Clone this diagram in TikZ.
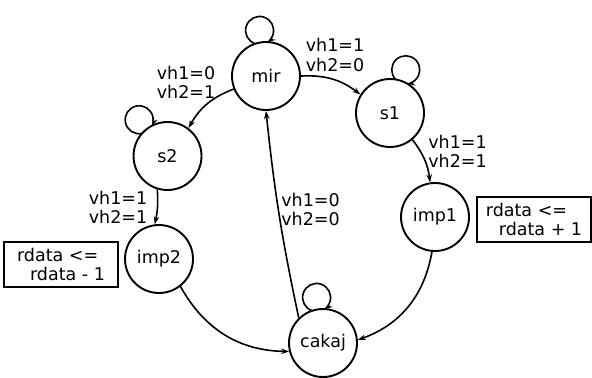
\documentclass[tikz,border=0pt]{standalone}
\usepackage{fontspec}
\setmainfont{DejaVu Sans}
\usetikzlibrary{arrows.meta,calc}
\newcommand{\fsz}{\fontsize{17.5bp}{19.5bp}\selectfont}
\newcommand{\selfloop}[2]{\draw[arr] ($(#1)+(#2:46)+(#2+154:14)$) arc[start angle=#2+154, end angle=#2-154, radius=14];}
\begin{document}
\begin{tikzpicture}[x=1bp,y=1bp,
  state/.style={circle,draw,line width=1.9bp,minimum size=68bp,inner sep=0pt,font=\fsz},
  lbl/.style={align=left,inner sep=0pt,font=\fsz},
  act/.style={draw,line width=1.9bp,minimum width=114bp,minimum height=45bp,align=left,inner sep=0pt,font=\fsz},
  arr/.style={-{Stealth[length=8bp,width=5.5bp]},line width=1.6bp}]
\useasboundingbox (0,0) rectangle (592,377);
% states
\node[state] (mir)   at (266,301) {mir};
\node[state] (s1)    at (390,264) {s1};
\node[state] (s2)    at (167.5,221) {s2};
\node[state] (imp1)  at (435,160) {imp1};
\node[state] (imp2)  at (159,118) {imp2};
\node[state] (cakaj) at (323,34) {cakaj};
% labels
\node[lbl] (l1) at (335,322) {vh1=1\\vh2=0};
\node[lbl] (l2) at (186,294.5) {vh1=0\\vh2=1};
\node[lbl] (l3) at (457.5,225.5) {vh1=1\\vh2=1};
\node[lbl] (l4) at (118,169.5) {vh1=1\\vh2=1};
\node[lbl] (l5) at (310.5,167.5) {vh1=0\\vh2=0};
% action boxes
\node[act] (a2) at (61,112.5) {rdata <=\\\hspace*{13bp}rdata - 1};
\node[act] (a1) at (534,157.5) {rdata <=\\\hspace*{13bp}rdata + 1};
% transitions
\draw[arr] (mir.202) to[bend right=20] (s2.53);
\draw[arr] (mir.0) to[bend left=20] (s1.148);
\draw[arr] (s1.310) to[bend left=15] (imp1.98);
\draw[arr] (s2.253) to[bend left=8] (imp2.97);
\draw[arr] (imp1.265) to[bend left=30] (cakaj.5);
\draw[arr] (imp2.308) to[bend right=30] (cakaj.194);
\draw[arr] (cakaj.134) to[bend left=3] (mir.270);
% self loops
\selfloop{mir}{98}
\selfloop{s1}{70}
\selfloop{s2}{128}
\selfloop{cakaj}{98}
\end{tikzpicture}
\end{document}
